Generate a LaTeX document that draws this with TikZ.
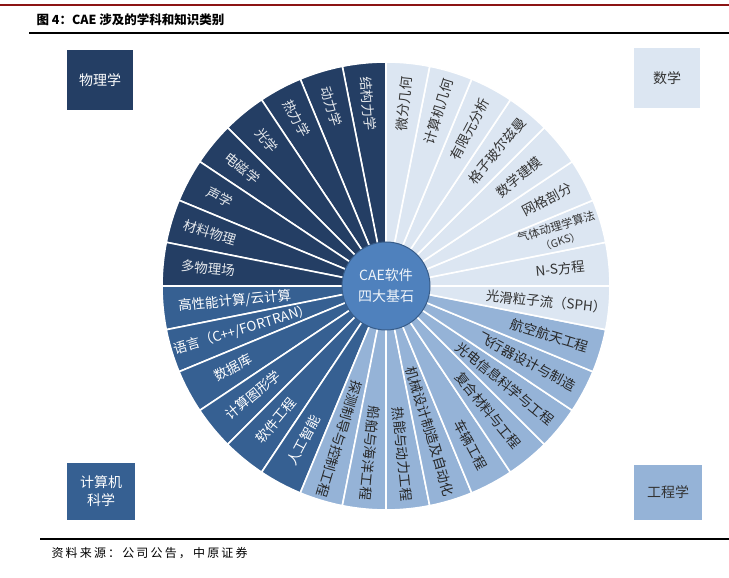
\documentclass[tikz,border=0pt]{standalone}
\usepackage{fontspec}
\setmainfont{Noto Sans CJK SC}
\newfontfamily\laiyuanfont[LetterSpace=18]{Noto Sans CJK SC}
\usetikzlibrary{positioning}

\definecolor{wuli}{RGB}{36,62,100}
\definecolor{shuxue}{RGB}{220,230,242}
\definecolor{jisuanji}{RGB}{54,96,146}
\definecolor{gongcheng}{RGB}{149,179,215}
\definecolor{hexin}{RGB}{79,129,189}
\definecolor{hexinbian}{RGB}{56,93,138}
\definecolor{biaotihong}{RGB}{140,20,20}

\tikzset{
  shanqu/.style={draw=white, line width=1.6pt},
  biaoqian/.style={font=\fontsize{13.5}{15}\selectfont, inner sep=0pt, align=center},
  fenlei/.style={minimum width=66pt, minimum height=60pt, inner sep=0pt,
    font=\fontsize{14}{18}\selectfont, align=center},
}

\begin{document}
\begin{tikzpicture}[x=1pt, y=1pt]
  \useasboundingbox (0,0) rectangle (729,578);

  % 标题和横线
  \draw[biaotihong, line width=2.5pt] (0,573) -- (729,573);
  \node[anchor=west, font=\bfseries\fontsize{12.5}{15}\selectfont] (biaoti) at (33,558) {图 4：CAE 涉及的学科和知识类别};
  \draw[black, line width=2.5pt] (29,545) -- (729,545);

  % 四个类别的方块
  \node[fenlei, fill=wuli, text=white] (wulixue) at (100,498) {物理学};
  \node[fenlei, fill=shuxue, text=black!80] (shuxuexue) at (667,500) {数学};
  \node[fenlei, fill=jisuanji, text=white, minimum width=68pt, minimum height=57pt] (jisuanjixue) at (101,86.5) {计算机\\科学};
  \node[fenlei, fill=gongcheng, text=black!80, minimum width=68pt, minimum height=55pt] (gongchengxue) at (668,85.5) {工程学};

  \begin{scope}[shift={(386,292)}]
    % 物理学的扇形
    \foreach \k in {0,...,7} {
      \pgfmathsetmacro{\a}{90+11.25*\k}
      \path[fill=wuli, shanqu] (0,0) -- (\a:224pt) arc[start angle=\a, delta angle=11.25, radius=224pt] -- cycle;
    }
    % 计算机科学的扇形
    \foreach \k in {8,...,13} {
      \pgfmathsetmacro{\a}{90+11.25*\k}
      \path[fill=jisuanji, shanqu] (0,0) -- (\a:224pt) arc[start angle=\a, delta angle=11.25, radius=224pt] -- cycle;
    }
    % 工程学的扇形
    \foreach \k in {14,...,22} {
      \pgfmathsetmacro{\a}{90+11.25*\k}
      \path[fill=gongcheng, shanqu] (0,0) -- (\a:224pt) arc[start angle=\a, delta angle=11.25, radius=224pt] -- cycle;
    }
    % 数学的扇形
    \foreach \k in {23,...,31} {
      \pgfmathsetmacro{\a}{90+11.25*\k}
      \path[fill=shuxue, shanqu] (0,0) -- (\a:224pt) arc[start angle=\a, delta angle=11.25, radius=224pt] -- cycle;
    }

    % 物理学的文字
    \foreach \k/\txt/\r in {0/结构力学/183, 1/动力学/188, 2/热力学/190, 3/光学/188,
        4/电磁学/186, 5/声学/188, 6/材料物理/184, 7/多物理场/179} {
      \pgfmathsetmacro{\m}{95.625+11.25*\k}
      \node[biaoqian, text=white!88!wuli, rotate=\m-180] (s\k) at (\m:\r pt) {\txt};
    }
    % 计算机科学的文字
    \foreach \k/\txt/\r in {8/{高性能计算/云计算}/152, 9/{语言（C++/FORTRAN）}/150, 10/数据库/173,
        11/计算图形学/172, 12/软件工程/174, 13/人工智能/175} {
      \pgfmathsetmacro{\m}{95.625+11.25*\k}
      \node[biaoqian, text=white, rotate=\m-180] (s\k) at (\m:\r pt) {\txt};
    }
    % 工程学的文字
    \foreach \k/\txt/\r in {14/探测制导与控制工程/160, 15/船舶与海洋工程/168, 16/热能与动力工程/169,
        17/机械设计制造及自动化/152, 18/车辆工程/180, 19/复合材料与工程/161,
        20/光电信息科学与工程/154, 21/飞行器设计与制造/160, 22/航空航天工程/171} {
      \pgfmathsetmacro{\m}{95.625+11.25*\k}
      \node[biaoqian, text=black!85, rotate=\m] (s\k) at (\m:\r pt) {\txt};
    }
    % 数学的文字
    \foreach \k/\txt/\r in {23/光滑粒子流（SPH）/161, 24/N-S方程/175,
        25/{{\fontsize{11.5}{13}\selectfont 气体动理学算法}\\{\fontsize{10.5}{13}\selectfont （GKS）}}/180,
        26/网格剖分/183, 27/数学建模/172, 28/格子玻尔兹曼/175, 29/有限元分析/178,
        30/计算机几何/182, 31/微分几何/183} {
      \pgfmathsetmacro{\m}{95.625+11.25*\k}
      \node[biaoqian, text=black!80, rotate=\m] (s\k) at (\m:\r pt) {\txt};
    }

    % 中间的圆
    \node[circle, fill=hexin, draw=hexinbian, line width=1pt, minimum size=88pt, inner sep=0pt,
      text=white!92!hexin, font=\fontsize{14}{21}\selectfont, align=center] (hexinyuan) at (0,0) {CAE软件\\四大基石};
  \end{scope}

  % 资料来源
  \draw[black, line width=2.5pt] (40,39) -- (729,39);
  \node[anchor=west, font=\laiyuanfont\fontsize{12}{14}\selectfont] (laiyuan) at (48,25) {资料来源：公司公告，中原证券};
\end{tikzpicture}
\end{document}
